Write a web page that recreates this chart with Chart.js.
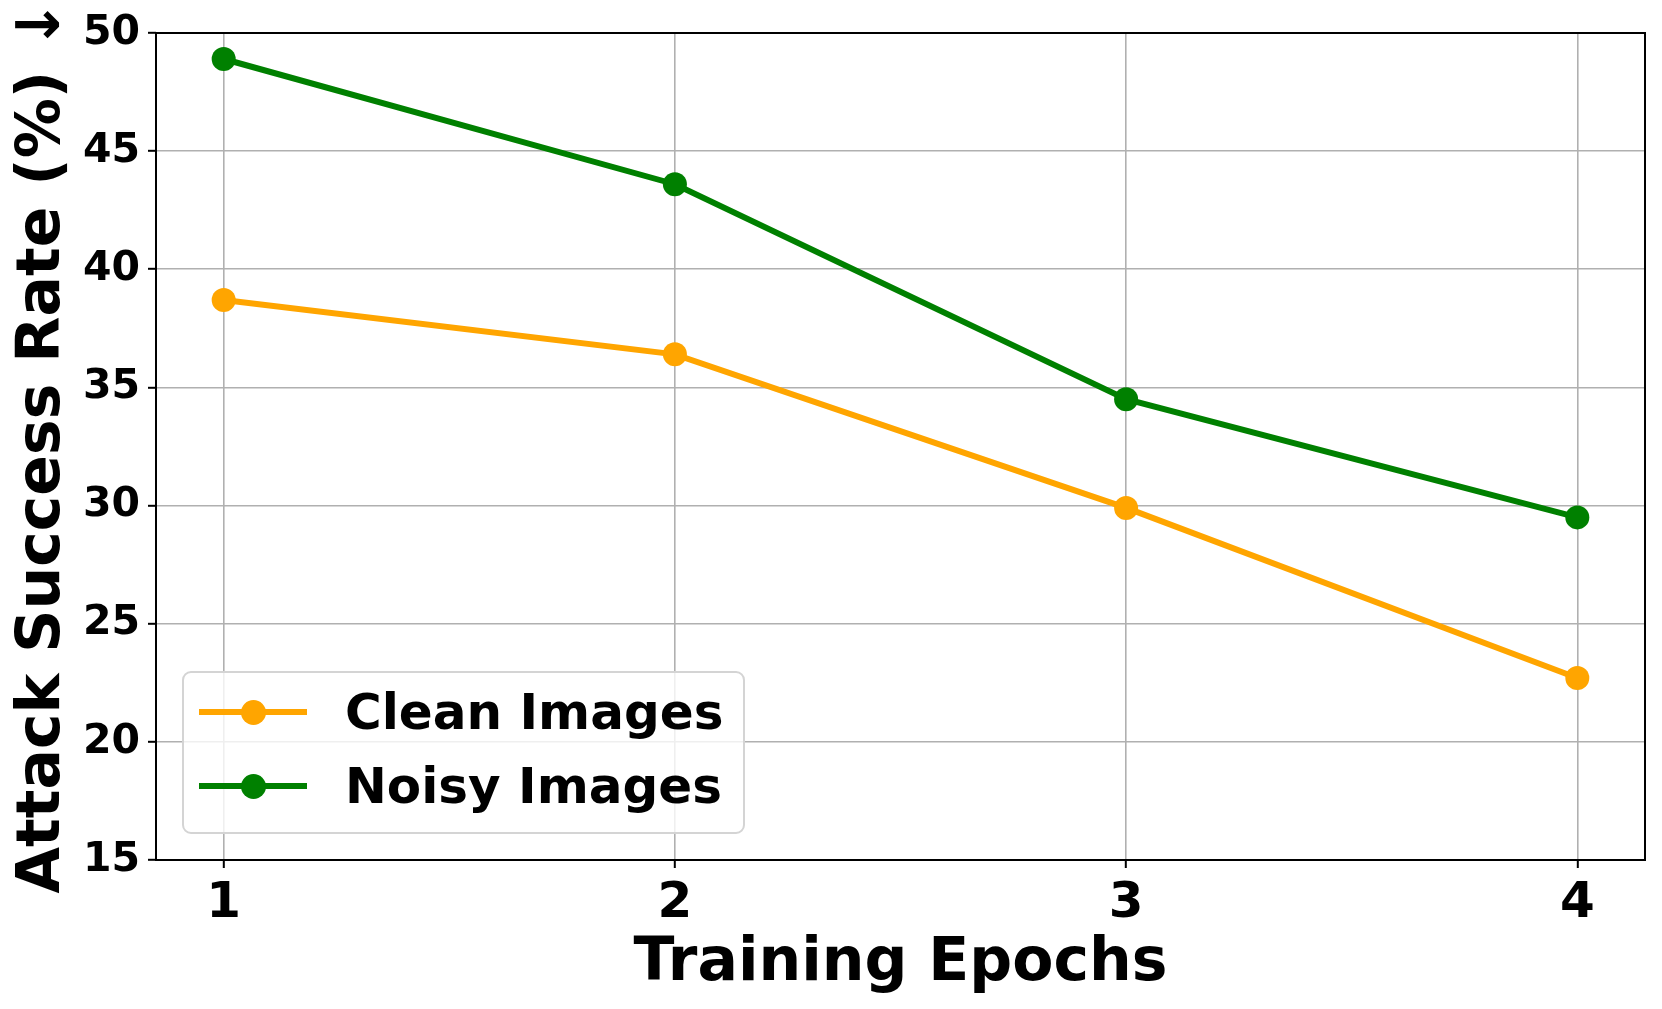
<!DOCTYPE html>
<html>
<head>
<meta charset="utf-8">
<title>Attack Success Rate vs Training Epochs</title>
<script src="https://cdn.jsdelivr.net/npm/chart.js@4.4.0/dist/chart.umd.min.js"></script>
<style>
  html, body { margin: 0; padding: 0; background: #fff; }
  #wrap { position: relative; width: 1662px; height: 1009px; }
  #legend {
    position: absolute; left: 182px; top: 671px; width: 563px; height: 163px;
    box-sizing: border-box; background: rgba(255,255,255,0.8);
    border: 2px solid #d4d4d4; border-radius: 9px;
    font: bold 50px "DejaVu Sans", sans-serif; color: #000;
  }
  .item { position: absolute; left: 0; width: 100%; height: 0; }
  .swatch { position: absolute; left: 15px; top: -3px; width: 108px; height: 6px; }
  .dot { position: absolute; top: -12px; width: 25px; height: 25px; border-radius: 50%; }
  .label { position: absolute; left: 161px; top: 0; transform: translateY(-50%); white-space: nowrap; line-height: 1; }
</style>
</head>
<body>
<div id="wrap">
  <canvas id="chart" width="1662" height="1009"></canvas>
  <div id="legend"></div>
</div>
<script>
// data
const epochs = [1, 2, 3, 4];
const cleanRates = [38.7, 36.4, 29.9, 22.7];
const noisyRates = [48.9, 43.6, 34.5, 29.5];
const seriesNames = ['Clean Images', 'Noisy Images'];
const seriesColors = ['#FFA500', '#008000'];

const FONT = '"DejaVu Sans", sans-serif';

const toPoints = vals => epochs.map((e, i) => ({ x: e, y: vals[i] }));

// black box around the plot area
const frame = {
  id: 'frame',
  afterDraw(chart) {
    const { ctx, chartArea: a } = chart;
    ctx.save();
    ctx.strokeStyle = '#000';
    ctx.lineWidth = 2;
    ctx.strokeRect(a.left, a.top, a.right - a.left, a.bottom - a.top);
    ctx.restore();
  }
};

const datasets = [cleanRates, noisyRates].map((vals, i) => ({
  label: seriesNames[i],
  data: toPoints(vals),
  borderColor: seriesColors[i],
  backgroundColor: seriesColors[i],
  borderWidth: 6,
  pointRadius: 12,
  pointHoverRadius: 12,
  pointBorderWidth: 0,
  tension: 0
}));

const chart = new Chart(document.getElementById('chart'), {
  type: 'line',
  data: { datasets },
  options: {
    responsive: false,
    animation: false,
    devicePixelRatio: 1,
    layout: { padding: { top: 33, right: 17, left: 0, bottom: 0 } },
    plugins: {
      legend: { display: false },
      tooltip: { enabled: false }
    },
    scales: {
      x: {
        type: 'linear',
        min: 0.85,
        max: 4.15,
        afterBuildTicks: s => { s.ticks = epochs.map(v => ({ value: v })); },
        afterFit: s => { s.height = 149; },
        grid: { color: '#b0b0b0', lineWidth: 1.6, tickColor: '#000', tickLength: 8, tickWidth: 2 },
        border: { display: false },
        ticks: {
          color: '#000',
          padding: 6,
          font: { family: FONT, size: 50, weight: 'bold' }
        },
        title: {
          display: true,
          text: 'Training Epochs',
          color: '#000',
          padding: { top: 0, bottom: 9 },
          font: { family: FONT, size: 60, weight: 'bold' }
        }
      },
      y: {
        min: 15,
        max: 50,
        afterFit: s => { s.width = 156; },
        grid: { color: '#b0b0b0', lineWidth: 1.6, tickColor: '#000', tickLength: 8, tickWidth: 2 },
        border: { display: false },
        ticks: {
          stepSize: 5,
          color: '#000',
          padding: 8,
          font: { family: FONT, size: 41, weight: 'bold' }
        },
        title: {
          display: true,
          text: 'Attack Success Rate (%) ↓',
          color: '#000',
          padding: { top: 7, bottom: 0 },
          font: { family: FONT, size: 60, weight: 'bold' }
        }
      }
    }
  },
  plugins: [frame]
});

// legend inside the axes, lower left
const legend = document.getElementById('legend');
const rowY = [39, 113];
chart.data.datasets.forEach((ds, i) => {
  const item = document.createElement('div');
  item.className = 'item';
  item.style.top = rowY[i] + 'px';
  item.innerHTML =
    `<div class="swatch" style="background:${ds.borderColor}"></div>` +
    `<div class="dot" style="background:${ds.borderColor};left:${15 + 54 - 12.5}px"></div>` +
    `<div class="label">${ds.label}</div>`;
  legend.appendChild(item);
});
</script>
</body>
</html>
